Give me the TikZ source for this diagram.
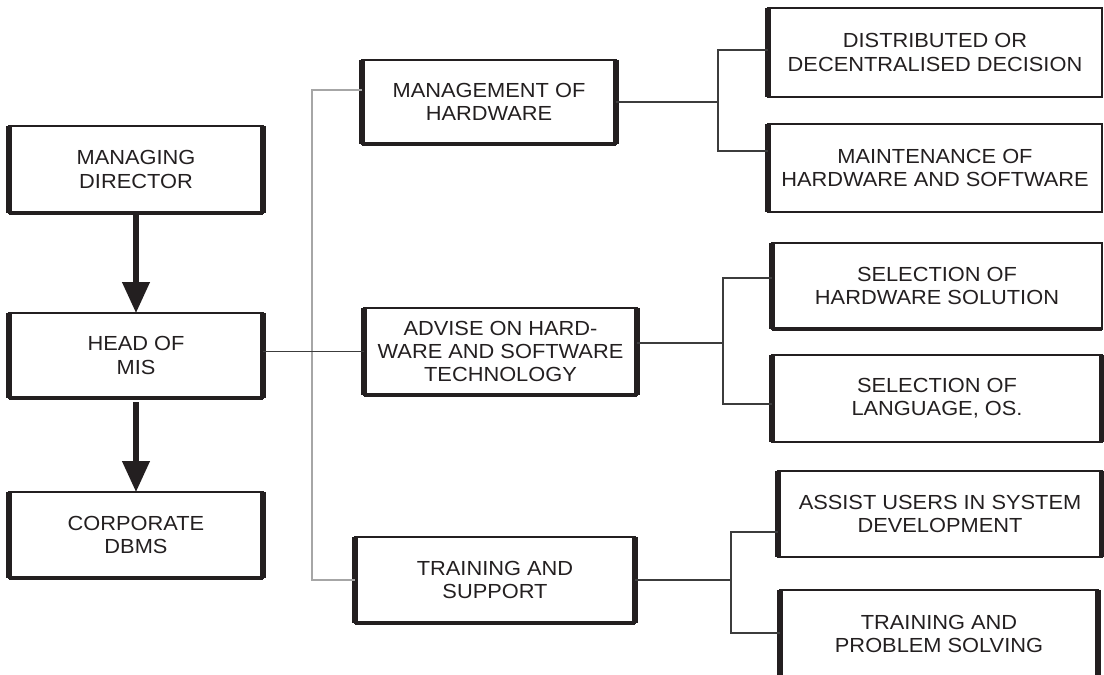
\documentclass[tikz,border=0pt]{standalone}
\usepackage{fontspec}
\setmainfont{Liberation Sans}[FakeStretch=1.07]
\usetikzlibrary{arrows.meta,positioning}
\definecolor{ink}{HTML}{231F20}
\definecolor{wirecol}{HTML}{3C3C3C}
\tikzset{
 box/.style={draw=ink, line width=2pt, outer sep=0pt, align=center, text=ink,
  font=\fontsize{14.5}{16.6}\selectfont},
 lbox/.style={box, minimum width=6.35cm, minimum height=2.15cm},
 rbox/.style={box, minimum width=8.3cm, minimum height=2.18cm},
 edge/.style={ink, line width=4.5pt},
 bigarrow/.style={ink, line width=3.6pt, -{Triangle[width=19pt,length=22pt]}},
 link/.style={draw=wirecol, line width=0.8pt},
 trunk/.style={draw=gray!70, line width=0.9pt}
}
\begin{document}
\begin{tikzpicture}[x=0.025cm, y=-0.025cm]
 \useasboundingbox (0,0) rectangle (1104,675);

 % left column
 \node[lbox, minimum height=2.175cm] (md) at (136,169.5) {MANAGING\\DIRECTOR};
 \node[lbox, minimum height=2.125cm] (hd) at (136,355.5) {HEAD OF\\MIS};
 \node[lbox] (db) at (136,535) {CORPORATE\\DBMS};

 % middle column
 \node[box, minimum width=6.35cm, minimum height=2.1cm] (mh) at (489,102) {MANAGEMENT OF\\HARDWARE};
 \node[box, minimum width=6.825cm, minimum height=2.175cm] (ad) at (500.5,351.5) {ADVISE ON HARD-\\WARE AND SOFTWARE\\TECHNOLOGY};
 \node[box, minimum width=7cm, minimum height=2.15cm] (ts) at (495,580) {TRAINING AND\\SUPPORT};

 % right column
 \node[rbox, minimum width=8.35cm, minimum height=2.225cm] (dd) at (935,52.5) {DISTRIBUTED OR\\DECENTRALISED DECISION};
 \node[rbox, minimum width=8.35cm, minimum height=2.2cm] (mt) at (935,168) {MAINTENANCE OF\\HARDWARE AND SOFTWARE};
 \node[rbox, minimum width=8.25cm, minimum height=2.15cm] (sh) at (937,286) {SELECTION OF\\HARDWARE SOLUTION};
 \node[rbox, minimum width=8.25cm, minimum height=2.175cm] (sl) at (937,398.5) {SELECTION OF\\LANGUAGE, OS.};
 \node[rbox, minimum width=8.1cm, minimum height=2.15cm] (au) at (940,514) {ASSIST USERS IN SYSTEM\\DEVELOPMENT};
 \node[rbox, minimum width=7.95cm, minimum height=2.2cm] (tp) at (939,634) {TRAINING AND\\PROBLEM SOLVING};

 % heavy box sides
 \foreach \n in {md,hd,db,mh,ad,ts,dd,mt,sh,sl,au,tp}
  \draw[edge] (\n.north west) -- (\n.south west);
 \foreach \n in {md,hd,db,mh,ad,ts,sl,au,tp}
  \draw[edge] (\n.north east) -- (\n.south east);
 \foreach \n in {md,hd,db,mh,ad,ts,sh}
  \draw[ink, line width=3.2pt] (\n.south west) -- (\n.south east);

 % chain of command
 \draw[bigarrow] (md.south) -- (hd.north);
 \draw[bigarrow, shorten <=3pt] (hd.south) -- (db.north);

 % spine points
 \coordinate (t1) at (312,90);
 \coordinate (a1) at (718,50);
 \coordinate (a2) at (718,151);
 \coordinate (b0) at (723,343);
 \coordinate (b1) at (723,278);
 \coordinate (b2) at (723,404);
 \coordinate (c0) at (731,580);
 \coordinate (c1) at (731,532);
 \coordinate (c2) at (731,633);

 % connectors
 \draw[trunk] (mh.west |- t1) -- (t1) |- (ts.west);
 \draw[link] (hd.east |- ad.west) -- (ad.west);
 \draw[link] (mh.east) -- (mh.east -| a1);
 \draw[link] (dd.west |- a1) -- (a1) -- (a2) -- (mt.west |- a2);
 \draw[link] (ad.east |- b0) -- (b0);
 \draw[link] (sh.west |- b1) -- (b1) -- (b2) -- (sl.west |- b2);
 \draw[link] (ts.east) -- (c0);
 \draw[link] (au.west |- c1) -- (c1) -- (c2) -- (tp.west |- c2);
\end{tikzpicture}
\end{document}
